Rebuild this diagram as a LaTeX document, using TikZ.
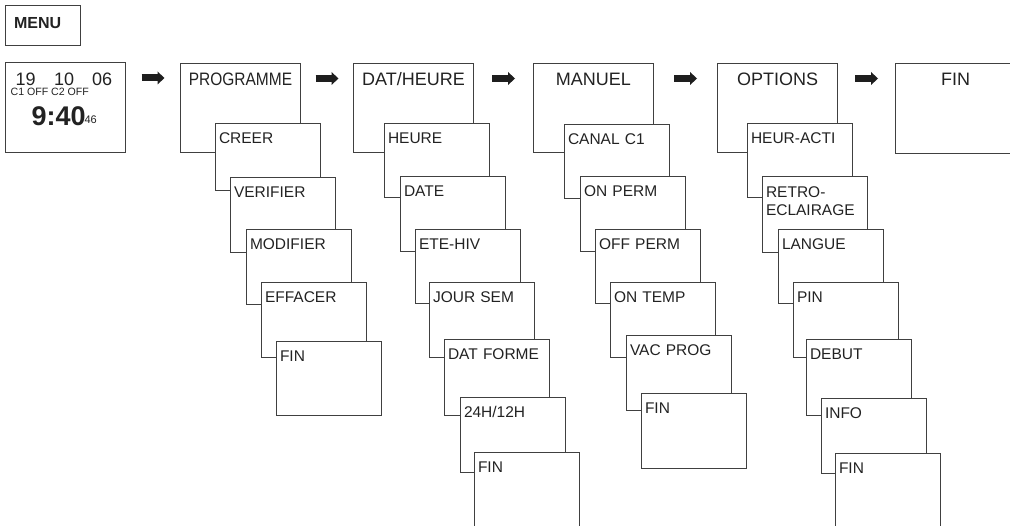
\documentclass[tikz,border=0pt]{standalone}
\usepackage{fontspec}
\setmainfont{Liberation Sans}
\usetikzlibrary{calc,arrows.meta}
\definecolor{lc}{HTML}{404040}
\definecolor{tc}{HTML}{222222}
\definecolor{ac}{HTML}{1E1E1E}
\begin{document}
\begin{tikzpicture}[x=1pt,y=-1pt,
  box/.style={draw=lc, fill=white, line width=1pt, anchor=north west, inner ysep=0pt, text=tc},
  mainbox/.style={box, text width=112pt, inner xsep=4pt, align=center, text height=22pt, text depth=#1, font=\fontsize{18}{20}\selectfont},
  subbox/.style={box, text width=98pt, inner xsep=3.5pt, align=left, text height=20pt, text depth=#1, font=\fontsize{15.5}{17}\selectfont},
  menubox/.style={box, text width=58pt, inner xsep=8.5pt, align=left, text height=23pt, text depth=17pt, font=\fontsize{16}{18}\selectfont\bfseries},
  clockbox/.style={box, minimum width=120pt, minimum height=90pt, inner sep=0pt},
  ctext/.style={anchor=base west, inner sep=0pt, text=tc},
  bigarrow/.style={draw=ac, line width=7pt, -{Triangle[length=7pt,width=13pt,line width=0pt]}}
]
\useasboundingbox (0,0) rectangle (1010,526);
\clip (0,0) rectangle (1010,526);

% MENU
\node[menubox] (menu) at (5,5) {MENU};

% clock display
\node[clockbox] (clock) at (5,62) {};
\node[ctext] (dateline) at (10.4,86) {\parbox[t]{105pt}{\fontsize{18}{18}\selectfont\hspace*{4.9pt}19\hspace{18.7pt}10\hspace{18pt}06\par
  \fontsize{10.6}{9.5}\selectfont C1 OFF C2 OFF}};
\node[ctext, font=\fontsize{27}{30}\selectfont\bfseries] (time) at (31.3,125.7) {9:40};
\node[ctext, font=\fontsize{11}{12}\selectfont] (sec) at (84.3,123.3) {46};

% PROGRAMME column
\node[mainbox=67pt] (prog) at (180,63) {\scalebox{0.86}[1]{PROGRAMME}};
\node[subbox=47pt] (creer) at (215,123) {CREER};
\node[subbox=55pt] (verif) at (230,177) {VERIFIER};
\node[subbox=55pt] (modif) at (246,229) {MODIFIER};
\node[subbox=55pt] (effac) at (261,282) {EFFACER};
\node[subbox=54pt] (pfin) at (276,341) {FIN};

% DAT/HEURE column
\node[mainbox=67pt] (dat) at (353,63) {DAT/HEURE};
\node[subbox=54pt] (heure) at (384,123) {HEURE};
\node[subbox=55pt] (date) at (400,176) {DATE};
\node[subbox=54pt] (etehiv) at (415,229) {ETE-HIV};
\node[subbox=55pt] (jour) at (429,282) {JOUR SEM};
\node[subbox=56pt] (datforme) at (444,339) {DAT FORME};
\node[subbox=55pt] (hformat) at (460,397) {24H/12H};
\node[subbox=75pt] (dfin) at (474,452) {FIN};

% MANUEL column
\node[mainbox=67pt] (manuel) at (533,63) {MANUEL};
\node[subbox=54pt] (canal) at (564,124) {CANAL C1};
\node[subbox=55pt] (onperm) at (580,176) {ON PERM};
\node[subbox=54pt] (offperm) at (595,229) {OFF PERM};
\node[subbox=55pt] (ontemp) at (610,282) {ON TEMP};
\node[subbox=55pt] (vac) at (626,335) {VAC PROG};
\node[subbox=55pt] (mfin) at (641,393) {FIN};

% OPTIONS column
\node[mainbox=67pt] (options) at (717,63) {OPTIONS};
\node[subbox=54pt] (heuracti) at (747,123) {HEUR-ACTI};
\node[subbox=55pt, text height=21pt] (retro) at (762,176) {\parbox[t]{98pt}{\fontsize{15.5}{18}\selectfont RETRO-\par ECLAIRAGE}};
\node[subbox=54pt] (langue) at (778,229) {LANGUE};
\node[subbox=55pt] (pin) at (793,282) {PIN};
\node[subbox=56pt] (debut) at (806,339) {DEBUT};
\node[subbox=55pt] (info) at (821,398) {INFO};
\node[subbox=75pt] (ofin) at (835,453) {FIN};

% final FIN
\node[mainbox=68pt] (fin) at (895,63) {FIN};

% arrows
\draw[bigarrow] ($(clock.north east)!.5!(prog.north west)+(-11.5,15.5)$) -- ($(clock.north east)!.5!(prog.north west)+(11.5,15.5)$);
\draw[bigarrow] ($(prog.north east)!.5!(dat.north west)+(-11.5,15.5)$) -- ($(prog.north east)!.5!(dat.north west)+(11.5,15.5)$);
\draw[bigarrow] ($(dat.north east)!.5!(manuel.north west)+(-11.5,15.5)$) -- ($(dat.north east)!.5!(manuel.north west)+(11.5,15.5)$);
\draw[bigarrow] ($(manuel.north east)!.5!(options.north west)+(-11.5,15.5)$) -- ($(manuel.north east)!.5!(options.north west)+(11.5,15.5)$);
\draw[bigarrow] ($(options.north east)!.5!(fin.north west)+(-11.5,15.5)$) -- ($(options.north east)!.5!(fin.north west)+(11.5,15.5)$);
\end{tikzpicture}
\end{document}
